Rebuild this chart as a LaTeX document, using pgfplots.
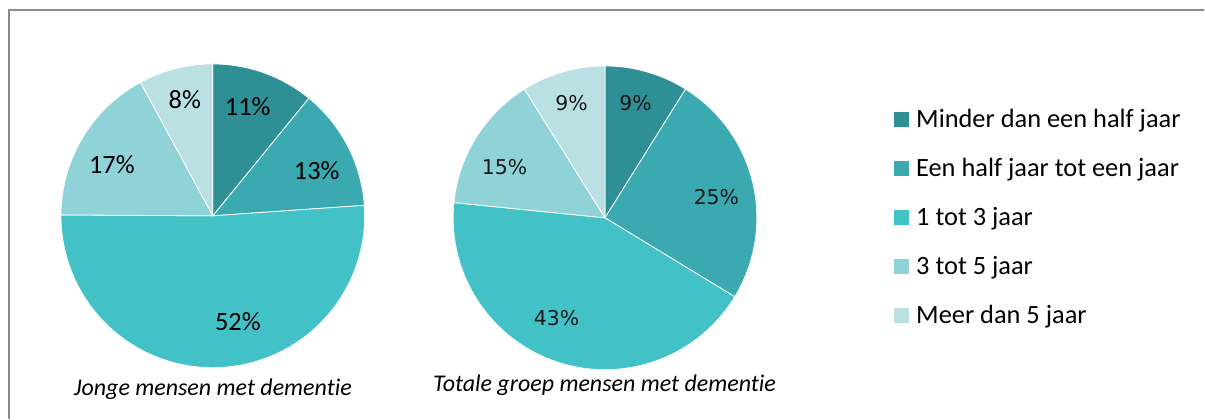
\documentclass[border=0pt]{standalone}
\usepackage{pgfplots}
\usepackage{pgfplotstable}
\pgfplotsset{compat=1.18}
\usepackage{fontspec}
\setmainfont{Carlito}[Ligatures=NoCommon]
\newfontfamily\dvs{DejaVu Sans}

\definecolor{c0}{HTML}{2E8F94}
\definecolor{c1}{HTML}{3AAAB0}
\definecolor{c2}{HTML}{42C1C7}
\definecolor{c3}{HTML}{8FD2D8}
\definecolor{c4}{HTML}{BAE0E3}
\definecolor{frame}{HTML}{8C8C8C}

% shares (percent), clockwise from 12 o'clock
\pgfplotstableread{
share
10.9
13.0
51.2
17.0
7.9
}\jonge
\pgfplotstableread{
share
8.9
24.8
42.9
14.5
8.9
}\totaal

\newcommand\cumangles[2]{%
  \xdef\acc{0}%
  \foreach \i in {0,...,4}{%
    \pgfplotstablegetelem{\i}{share}\of#1%
    \pgfmathsetmacro\e{\acc+3.6*\pgfplotsretval}%
    \expandafter\xdef\csname #2s\i\endcsname{\acc}%
    \expandafter\xdef\csname #2e\i\endcsname{\e}%
    \xdef\acc{\e}%
  }%
}
\cumangles{\jonge}{A}
\cumangles{\totaal}{B}

\begin{document}
\begin{tikzpicture}
\begin{axis}[
  x=0.5pt, y=0.5pt, y dir=reverse,
  xmin=0, xmax=1205, ymin=0, ymax=419,
  hide axis, clip=false, scale only axis,
  legend style={at={(0.7427,0.7387)}, anchor=north west, draw=none, fill=none,
    inner sep=0pt, outer sep=0pt, font=\fontsize{13.2}{15}\selectfont,
    row sep=12.5pt, column sep=3.5pt,
    nodes={inner sep=0pt, text height=9pt, text depth=3pt, anchor=base west}},
  legend cell align=left,
  legend image code/.code={\fill[#1, draw=none] (0pt,0pt) rectangle (7.5pt,7.5pt);},
]
\fill[white] (axis cs:0,0) rectangle (axis cs:1205,419);
\draw[frame, line width=1pt] (axis cs:9,419) -- (axis cs:9,10) -- (axis cs:1205,10);

% Pie 1: Jonge mensen met dementie
\addplot[fill=c0, draw=white, line width=0.4pt, domain=\csname As0\endcsname:\csname Ae0\endcsname, samples=60, variable=\t] ({213+152*sin(\t)},{216-152*cos(\t)}) -- (axis cs:213,216) -- cycle;
\addplot[fill=c1, draw=white, line width=0.4pt, domain=\csname As1\endcsname:\csname Ae1\endcsname, samples=60, variable=\t] ({213+152*sin(\t)},{216-152*cos(\t)}) -- (axis cs:213,216) -- cycle;
\addplot[fill=c2, draw=white, line width=0.4pt, domain=\csname As2\endcsname:\csname Ae2\endcsname, samples=90, variable=\t] ({213+152*sin(\t)},{216-152*cos(\t)}) -- (axis cs:213,216) -- cycle;
\addplot[fill=c3, draw=white, line width=0.4pt, domain=\csname As3\endcsname:\csname Ae3\endcsname, samples=60, variable=\t] ({213+152*sin(\t)},{216-152*cos(\t)}) -- (axis cs:213,216) -- cycle;
\addplot[fill=c4, draw=white, line width=0.4pt, domain=\csname As4\endcsname:\csname Ae4\endcsname, samples=60, variable=\t] ({213+152*sin(\t)},{216-152*cos(\t)}) -- (axis cs:213,216) -- cycle;

% Pie 2: Totale groep mensen met dementie
\addplot[forget plot, fill=c0, draw=white, line width=0.4pt, domain=\csname Bs0\endcsname:\csname Be0\endcsname, samples=60, variable=\t] ({605.5+152*sin(\t)},{218-152*cos(\t)}) -- (axis cs:605.5,218) -- cycle;
\addplot[forget plot, fill=c1, draw=white, line width=0.4pt, domain=\csname Bs1\endcsname:\csname Be1\endcsname, samples=60, variable=\t] ({605.5+152*sin(\t)},{218-152*cos(\t)}) -- (axis cs:605.5,218) -- cycle;
\addplot[forget plot, fill=c2, draw=white, line width=0.4pt, domain=\csname Bs2\endcsname:\csname Be2\endcsname, samples=90, variable=\t] ({605.5+152*sin(\t)},{218-152*cos(\t)}) -- (axis cs:605.5,218) -- cycle;
\addplot[forget plot, fill=c3, draw=white, line width=0.4pt, domain=\csname Bs3\endcsname:\csname Be3\endcsname, samples=60, variable=\t] ({605.5+152*sin(\t)},{218-152*cos(\t)}) -- (axis cs:605.5,218) -- cycle;
\addplot[forget plot, fill=c4, draw=white, line width=0.4pt, domain=\csname Bs4\endcsname:\csname Be4\endcsname, samples=60, variable=\t] ({605.5+152*sin(\t)},{218-152*cos(\t)}) -- (axis cs:605.5,218) -- cycle;

\legend{Minder dan een half jaar, Een half jaar tot een jaar, 1 tot 3 jaar, 3 tot 5 jaar, Meer dan 5 jaar}

% labels pie 1
\begin{scope}[every node/.style={font=\fontsize{13.2}{15}\selectfont, inner sep=0pt}]
\node at (axis cs:248,107) {11\%};
\node at (axis cs:317,171) {13\%};
\node at (axis cs:238,322) {52\%};
\node at (axis cs:112,165) {17\%};
\node at (axis cs:185,100) {8\%};
\end{scope}
% labels pie 2
\begin{scope}[every node/.style={font=\dvs\fontsize{10.2}{12}\selectfont, inner sep=0pt, text=black!90}]
\node at (axis cs:636,103) {9\%};
\node at (axis cs:717,197) {25\%};
\node at (axis cs:557,318) {43\%};
\node at (axis cs:505,167) {15\%};
\node at (axis cs:572,103) {9\%};
\end{scope}
% captions
\node[font=\itshape\fontsize{12}{14}\selectfont, inner sep=0pt] at (axis cs:213,390) {Jonge mensen met dementie};
\node[font=\itshape\fontsize{12}{14}\selectfont, inner sep=0pt] at (axis cs:605,386) {Totale groep mensen met dementie};
\end{axis}
\end{tikzpicture}
\end{document}
